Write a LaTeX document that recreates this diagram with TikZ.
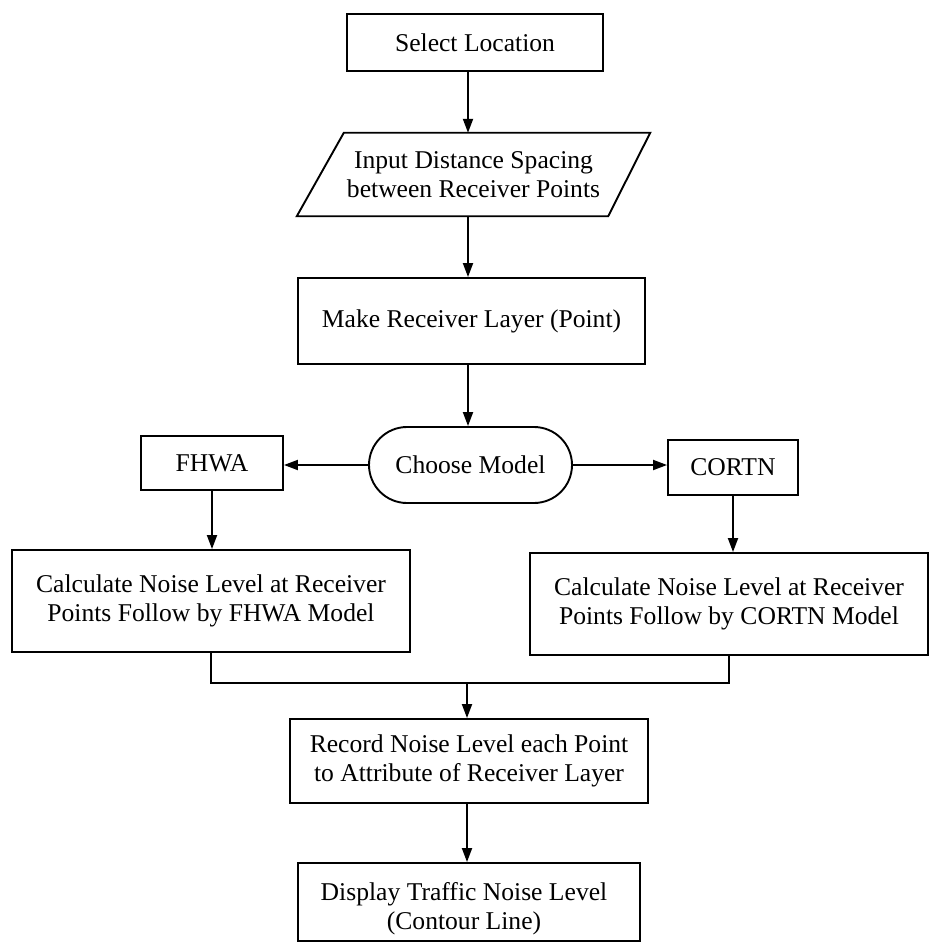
\documentclass[tikz,border=0pt]{standalone}
\usepackage{fontspec}
\setmainfont{Liberation Serif}
\usetikzlibrary{arrows.meta}
\begin{document}
\begin{tikzpicture}[x=1pt,y=-1pt,
  box/.style={draw, line width=1.9pt, align=center, inner sep=0pt,
    font={\fontsize{25.6pt}{29pt}\selectfont}},
  plain/.style={align=center, inner sep=0pt,
    font={\fontsize{25.6pt}{29pt}\selectfont}},
  arr/.style={line width=1.9pt, -{Triangle[length=14pt,width=10pt]}},
  link/.style={line width=1.9pt}]
\useasboundingbox (0,0) rectangle (931,944);

\coordinate (col) at (468,0);

\node[box, minimum width=256pt, minimum height=57pt] (sel) at (475,42.5) {Select Location};
\node[plain, minimum width=353pt, minimum height=83pt] (inp) at (473.5,174.5)
  {Input Distance Spacing\\between Receiver Points};
\draw[line width=1.9pt] (inp.south west) -- ([xshift=47pt]inp.north west)
  -- (inp.north east) -- ([xshift=-42pt]inp.south east) -- cycle;
\node[box, minimum width=347pt, minimum height=86pt] (make) at (471.5,321) {Make Receiver Layer (Point)};
\node[box, rounded corners=38pt, minimum width=203pt, minimum height=76pt] (choose) at (470.5,465) {Choose Model};
\node[box, minimum width=142pt, minimum height=54pt] (fhwa) at (212,463) {FHWA};
\node[box, minimum width=130pt, minimum height=55pt] (cortn) at (733,467.5) {CORTN};
\node[box, minimum width=398pt, minimum height=102pt] (calcL) at (211,601)
  {Calculate Noise Level at Receiver\\Points Follow by FHWA Model};
\node[box, minimum width=398pt, minimum height=102pt] (calcR) at (729,604)
  {Calculate Noise Level at Receiver\\Points Follow by CORTN Model};
\node[box, minimum width=358pt, minimum height=84pt] (rec) at (469,761)
  {Record Noise Level each Point\\to Attribute of Receiver Layer};
\node[box, minimum width=342pt, minimum height=78pt] (disp) at (469,902) {};
\node[plain] (dispt) at (464,909) {Display Traffic Noise Level\\(Contour Line)};

\coordinate (m) at (467,683);

\draw[arr] (sel.south -| col) -- (inp.north -| col);
\draw[arr] (inp.south -| col) -- (make.north -| col);
\draw[arr] (make.south -| col) -- (choose.north -| col);
\draw[arr] (choose.west) -- (fhwa.east |- choose.west);
\draw[arr] (choose.east) -- (cortn.west |- choose.east);
\draw[arr] (fhwa.south) -- (calcL.north -| fhwa.south);
\draw[arr] (cortn.south) -- (calcR.north -| cortn.south);
\draw[link] (calcL.south) -- (calcL.south |- m) -- (calcR.south |- m) -- (calcR.south);
\draw[arr] (m) -- (rec.north -| m);
\draw[arr] (rec.south -| m) -- (disp.north -| m);
\end{tikzpicture}
\end{document}
